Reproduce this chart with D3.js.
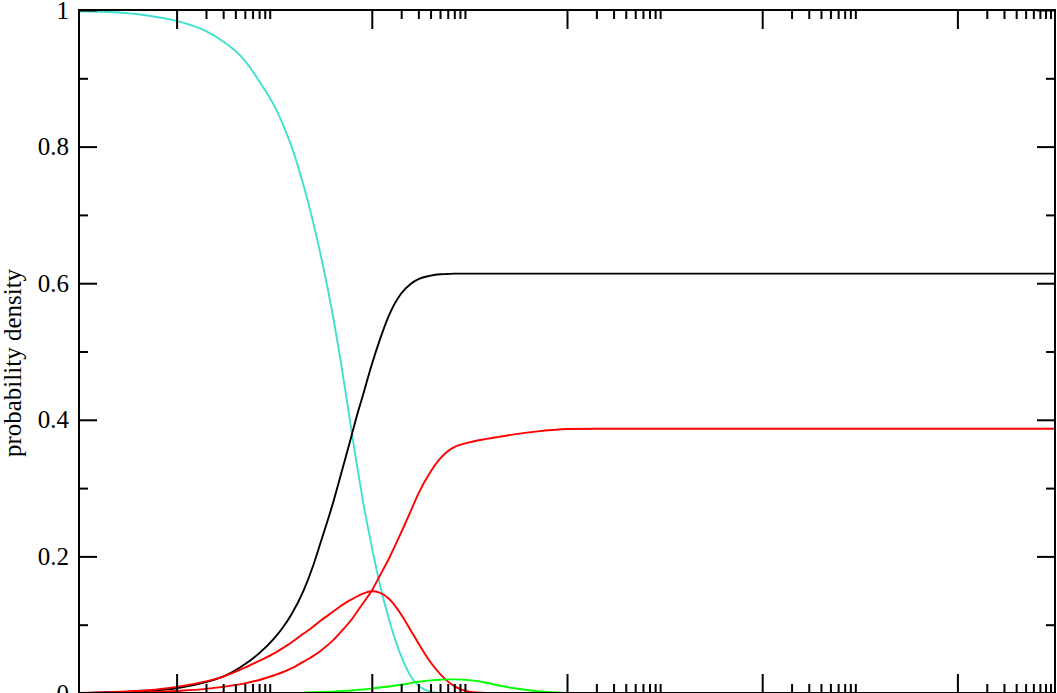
<!DOCTYPE html>
<html>
<head>
<meta charset="utf-8">
<script src="https://cdn.jsdelivr.net/npm/d3@7"></script>
<style>
  html, body { margin: 0; padding: 0; background: #fff; overflow: hidden; }
  svg { display: block; }
  text { font-family: "Liberation Serif", "Times New Roman", serif; fill: #000; }
</style>
</head>
<body>
<svg id="chart" width="1057" height="693"></svg>
<script>
// ---- data ----
const xValues = [0.1,0.2,0.5,1,2,3,5,7,10,12,15,20,25,30,40,50,60,70,80,100,120,150,200,250,300,400,500,600,700,
  1000,1500,2000,3000,5000,7000,1e4,2e4,5e4,1e5,1e6,1e7,1e8,1e9];

const cyanValues = [0.998,0.997,0.992,0.984,0.969,0.954,0.926,0.896,0.860,0.836,0.801,0.743,0.690,0.641,0.552,0.470,0.397,0.336,0.286,
  0.214,0.161,0.108,0.054,0.025,0.011,0.002,0.0,
  null,null,null,null,null,null,null,null,null,null,null,null,null,null,null,null];

const blackValues = [0.0,0.001,0.003,0.007,0.016,0.024,0.042,0.058,0.080,0.094,0.115,0.150,0.186,0.221,0.278,0.328,0.369,0.405,0.433,
  0.481,0.516,0.553,0.585,0.599,0.606,0.611,0.613,0.6135,0.614,
  0.614,0.614,0.614,0.614,0.614,0.614,0.614,0.614,0.614,0.614,0.614,0.614,0.614,0.614];

const redRiseValues = [0.0,0.0,0.001,0.003,0.006,0.009,0.014,0.019,0.026,0.030,0.036,0.046,0.054,0.062,0.077,0.092,0.105,0.118,0.130,
  0.150,0.171,0.197,0.235,0.266,0.292,0.324,0.343,0.354,0.360,
  0.367,0.372,0.375,0.379,0.383,0.385,0.3865,0.387,0.387,0.387,0.387,0.387,0.387,0.387];

const redPeakValues = [0.0,0.001,0.004,0.009,0.017,0.024,0.037,0.047,0.058,0.065,0.074,0.087,0.097,0.106,0.119,0.129,0.136,0.141,0.145,
  0.149,0.147,0.138,0.115,0.092,0.073,0.045,0.028,0.017,0.010,
  0.002,0.0,null,null,null,null,null,null,null,null,null,null,null,null];

const greenValues = [null,null,null,null,null,null,null,null,null,null,null,
  0.0005,0.001,0.0015,0.002,0.003,0.0035,0.0045,0.005,
  0.0065,0.008,0.0095,0.012,0.0145,0.0165,0.0185,0.0195,0.020,0.020,
  0.0188,0.015,0.011,0.0065,0.0025,0.001,0.0,null,null,null,null,null,null,null];

const yMajorTicks = [0, 0.2, 0.4, 0.6, 0.8, 1];
const yMinorTicks = [0.1, 0.3, 0.5, 0.7, 0.9];
const xMajorTicks = [1, 1e2, 1e4, 1e6, 1e8];
const xMinorMultipliers = [2,3,4,5,6,7,8,9];
const yLabel = "probability density";

const series = [
  { values: cyanValues,    color: "#40e0d0" },
  { values: blackValues,   color: "#000000" },
  { values: redRiseValues, color: "#ff0000" },
  { values: redPeakValues, color: "#ff0000" },
  { values: greenValues,   color: "#00ff00" }
];

// ---- layout ----
const mLeft = 79, mRight = 1055, mTop = 10, mBottom = 693;
const svg = d3.select("#chart");

const x = d3.scaleLog().domain([0.1, 1e9]).range([mLeft, mRight]);
const y = d3.scaleLinear().domain([0, 1]).range([mBottom, mTop]);

const xMinorTicks = [];
xMajorTicks.forEach(m => xMinorMultipliers.forEach(k => xMinorTicks.push(m * k)));

// ---- curves ----
const line = d3.line()
  .defined(d => d[1] !== null)
  .x(d => x(d[0]))
  .y(d => y(d[1]))
  .curve(d3.curveMonotoneX);

series.forEach(s => {
  svg.append("path")
    .datum(xValues.map((xv, i) => [xv, s.values[i]]))
    .attr("fill", "none")
    .attr("stroke", s.color)
    .attr("stroke-width", 1.9)
    .attr("d", line);
});

// ---- axes (ticks inward) ----
function styleAxis(g) {
  g.select(".domain").remove();
  g.selectAll(".tick line").attr("stroke", "#000").attr("stroke-width", 2);
  g.selectAll("text").style("font-family", '"Liberation Serif", "Times New Roman", serif');
}

// bottom
svg.append("g").attr("transform", `translate(0,${mBottom})`)
  .call(d3.axisBottom(x).tickValues(xMajorTicks).tickSizeInner(-19).tickSizeOuter(0).tickFormat(""))
  .call(styleAxis);
svg.append("g").attr("transform", `translate(0,${mBottom})`)
  .call(d3.axisBottom(x).tickValues(xMinorTicks).tickSizeInner(-9).tickSizeOuter(0).tickFormat(""))
  .call(styleAxis);
// top
svg.append("g").attr("transform", `translate(0,${mTop})`)
  .call(d3.axisTop(x).tickValues(xMajorTicks).tickSizeInner(-19).tickSizeOuter(0).tickFormat(""))
  .call(styleAxis);
svg.append("g").attr("transform", `translate(0,${mTop})`)
  .call(d3.axisTop(x).tickValues(xMinorTicks).tickSizeInner(-9).tickSizeOuter(0).tickFormat(""))
  .call(styleAxis);
// left
const yFmt = d => (d === 0 ? "0" : d === 1 ? "1" : d.toFixed(1));
svg.append("g").attr("transform", `translate(${mLeft},0)`)
  .call(d3.axisLeft(y).tickValues(yMajorTicks).tickSizeInner(-18).tickSizeOuter(0).tickPadding(10).tickFormat(yFmt))
  .call(styleAxis)
  .call(g => g.selectAll("text").attr("font-size", 25).attr("fill", "#000"));
svg.append("g").attr("transform", `translate(${mLeft},0)`)
  .call(d3.axisLeft(y).tickValues(yMinorTicks).tickSizeInner(-9).tickSizeOuter(0).tickFormat(""))
  .call(styleAxis);
// right
svg.append("g").attr("transform", `translate(${mRight},0)`)
  .call(d3.axisRight(y).tickValues(yMajorTicks).tickSizeInner(-18).tickSizeOuter(0).tickFormat(""))
  .call(styleAxis);
svg.append("g").attr("transform", `translate(${mRight},0)`)
  .call(d3.axisRight(y).tickValues(yMinorTicks).tickSizeInner(-9).tickSizeOuter(0).tickFormat(""))
  .call(styleAxis);

// frame
svg.append("rect")
  .attr("x", mLeft).attr("y", mTop)
  .attr("width", mRight - mLeft).attr("height", mBottom - mTop)
  .attr("fill", "none").attr("stroke", "#000").attr("stroke-width", 2);

// y label
svg.append("text")
  .attr("transform", `translate(21,363) rotate(-90)`)
  .attr("text-anchor", "middle")
  .attr("font-size", 25)
  .text(yLabel);
</script>
</body>
</html>
